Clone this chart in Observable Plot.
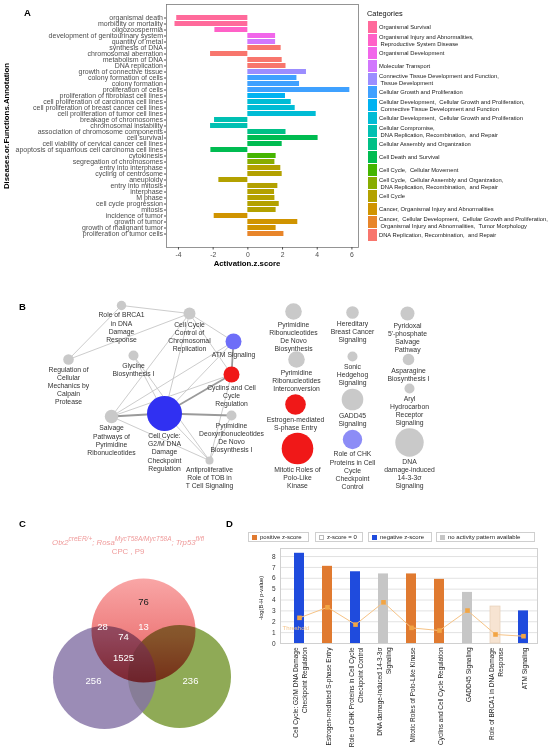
<!DOCTYPE html>
<html><head><meta charset="utf-8">
<script src="https://cdn.jsdelivr.net/npm/d3@7"></script>
<script src="https://cdn.jsdelivr.net/npm/@observablehq/plot@0.6"></script>
<style>
html,body{margin:0;padding:0;background:#fff;}
#root{position:relative;width:559px;height:748px;overflow:hidden;font-family:"Liberation Sans",Arial,sans-serif;}
#root svg{overflow:visible;}
.t{position:absolute;white-space:pre;line-height:1;}
.panel{font-weight:bold;font-size:9.5px;color:#000;}
.legA{position:absolute;left:379px;height:13px;display:flex;align-items:center;font-size:5.8px;line-height:6.7px;color:#1a1a1a;white-space:pre;}
.swA{position:absolute;left:368px;width:8.5px;height:12.4px;}
.legD{position:absolute;top:532px;height:10px;border:1px solid #cfcfcf;box-sizing:border-box;font-size:6px;color:#222;display:flex;align-items:center;white-space:pre;padding-left:3px;}
.legD span{display:inline-block;width:5px;height:5px;margin-right:3px;box-sizing:border-box;}
</style></head><body><div id="root"></div>
<script>
// ---------------- Panel A data ----------------
const functionsA = ["organismal death","morbidity or mortality","oligozoospermia","development of genitourinary system","quantity of metal","synthesis of DNA","chromosomal aberration","metabolism of DNA","DNA replication","growth of connective tissue","colony formation of cells","colony formation","proliferation of cells","proliferation of fibroblast cell lines","cell proliferation of carcinoma cell lines","cell proliferation of breast cancer cell lines","cell proliferation of tumor cell lines","breakage of chromosomes","chromosomal instability","association of chromosome components","cell survival","cell viability of cervical cancer cell lines","apoptosis of squamous cell carcinoma cell lines","cytokinesis","segregation of chromosomes","entry into interphase","cycling of centrosome","aneuploidy","entry into mitosis","interphase","M phase","cell cycle progression","mitosis","incidence of tumor","growth of tumor","growth of malignant tumor","proliferation of tumor cells"];
const zScoresA = [-4.1,-4.2,-1.9,1.6,1.6,1.92,-2.15,1.98,2.2,3.38,2.83,2.98,5.88,2.17,2.5,2.73,3.94,-1.92,-2.15,2.2,4.05,1.98,-2.13,1.63,1.56,1.9,1.98,-1.67,1.73,1.54,1.56,1.81,1.63,-1.94,2.88,1.63,2.08];
const categoriesA = ["Organismal Survival","Organismal Injury and Abnormalities,\n Reproductive System Disease","Organismal Development","Molecular Transport","Connective Tissue Development and Function,\n Tissue Development","Cellular Growth and Proliferation","Cellular Development,  Cellular Growth and Proliferation,\n Connective Tissue Development and Function","Cellular Development,  Cellular Growth and Proliferation","Cellular Compromise,\n DNA Replication, Recombination,  and Repair","Cellular Assembly and Organization","Cell Death and Survival","Cell Cycle,  Cellular Movement","Cell Cycle,  Cellular Assembly and Organization,\n DNA Replication, Recombination,  and Repair","Cell Cycle","Cancer, Organismal Injury and Abnormalities","Cancer,  Cellular Development,  Cellular Growth and Proliferation,\n Organismal Injury and Abnormalities,  Tumor Morphology","DNA Replication, Recombination,  and Repair"];
const functionCategoryA = [0,0,1,2,3,16,16,16,16,4,5,5,5,6,7,7,7,8,8,9,10,10,10,11,12,13,13,13,13,13,13,13,13,14,14,14,15];
const categoryColorsA = ["#FF6A9B","#FF61C7","#F166EA","#D177FD","#9B8DFF","#3FA1FF","#00B2F1","#00BCD5","#00C0B2","#00C086","#00BC51","#45B500","#88AC00","#B3A100","#D09400","#E8852A","#F8766D"];
const ticksA = [-4,-2,0,2,4,6];

// ---------------- Panel B data ----------------
const networkLabels = ["Role of BRCA1\nin DNA\nDamage\nResponse","Cell Cycle\nControl of\nChromosomal\nReplication","ATM Signaling","Cyclins and Cell\nCycle\nRegulation","Regulation of\nCellular\nMechanics by\nCalpain\nProtease","Glycine\nBiosynthesis I","Salvage\nPathways of\nPyrimidine\nRibonucleotides","Cell Cycle:\nG2/M DNA\nDamage\nCheckpoint\nRegulation","Pyrimidine\nDeoxyribonucleotides\nDe Novo\nBiosynthesis I","Antiproliferative\nRole of TOB in\nT Cell Signaling","Pyrimidine\nRibonucleotides\nDe Novo\nBiosynthesis","Pyrimidine\nRibonucleotides\nInterconversion","Estrogen-mediated\nS-phase Entry","Mitotic Roles of\nPolo-Like\nKinase","Hereditary\nBreast Cancer\nSignaling","Sonic\nHedgehog\nSignaling","GADD45\nSignaling","Role of CHK\nProteins in Cell\nCycle\nCheckpoint\nControl","Pyridoxal\n5'-phosphate\nSalvage\nPathway","Asparagine\nBiosynthesis I","Aryl\nHydrocarbon\nReceptor\nSignaling","DNA\ndamage-induced\n14-3-3σ\nSignaling"];
const layoutX = [121,189,233,231,68,133,111,164,231,209,293,296,295,297,352,352,352,352,407,408,409,409];
const layoutY = [305,313,341,374,359,355,416,413,415,460,311,359,404,448,312,356,399,439,313,359,388,442];
const nodeSize = [4.7,6,8,8,5.3,5,6.7,17.5,5,4,8.3,8.3,10.3,15.8,6.3,5,10.8,9.7,7,5.8,5,14.2];
const nodeStatus = ["none","none","down","up","none","none","none","strong down","none","none","none","none","up","up","none","none","none","down light","none","none","none","none"];
const networkEdges = [[0,1,1],[0,4,1],[1,4,1],[1,2,1],[1,7,1],[1,6,1],[1,3,1],[2,3,2],[2,7,1],[2,6,1],[3,7,2],[3,6,1],[5,9,1],[5,7,1],[6,7,2],[7,8,2],[6,9,1],[7,9,1],[8,9,1],[3,9,1]];

// ---------------- Panel C data ----------------
const vennCentersX = [143,104,179];
const vennCentersY = [630,677,676];
const vennRadii = [52,51.5,51.5];
const vennCounts = ["76","28","13","74","1525","256","236"];
const vennCountX = [143,102,143,123,123,93,190];
const vennCountY = [601,626,626,636,657,680,680];

// ---------------- Panel D data ----------------
const pathwaysD = ["Cell Cycle: G2/M DNA Damage\nCheckpoint Regulation","Estrogen-mediated S-phase Entry","Role of CHK Proteins in Cell Cycle\nCheckpoint Control","DNA damage-induced 14-3-3σ\nSignaling","Mitotic Roles of Polo-Like Kinase","Cyclins and Cell Cycle Regulation","GADD45 Signaling","Role of BRCA1 in DNA Damage\nResponse","ATM Signaling"];
const negLogPD = [8.3,7.1,6.6,6.4,6.4,5.9,4.7,3.4,3.0];
const ratioD = [2.36,3.33,1.74,3.79,1.44,1.19,3.03,0.83,0.67];
const zStatusD = ["negative","positive","negative","none","positive","positive","none","zero","negative"];
const statusLabelsD = ["positive z-score","z-score = 0","negative z-score","no activity pattern available"];
const thresholdD = 1.3;

// ---------------- helpers ----------------
const root = document.getElementById("root");
function place(el, left, top){ el.style.position="absolute"; el.style.left=left+"px"; el.style.top=top+"px"; root.appendChild(el); return el; }
function addDiv(cls, html, css){ const d=document.createElement("div"); d.className=cls; d.innerHTML=html; Object.assign(d.style, css||{}); root.appendChild(d); return d; }
const FONT = "Liberation Sans, Arial, sans-serif";

// ---------------- Panel A ----------------
const dataA = functionsA.map((f,i)=>({name:f, z:zScoresA[i], cat:categoriesA[functionCategoryA[i]]}));
const plotA = Plot.plot({
  width: 362, height: 272,
  marginLeft: 166, marginRight: 4, marginTop: 4, marginBottom: 25,
  style: {fontFamily: FONT, background: "transparent"},
  x: {domain: [-4.69, 6.38], label: null},
  y: {domain: functionsA, label: null, paddingInner: 0.13, paddingOuter: 0.06},
  color: {domain: categoriesA, range: categoryColorsA},
  marks: [
    Plot.barX(dataA, {x: "z", y: "name", fill: "cat"}),
    Plot.frame({stroke: "#7a7a7a", strokeWidth: 0.8}),
    Plot.axisY({tickSize: 2, tickPadding: 1.5, fontSize: 7, color: "#4d4d4d", label: null}),
    Plot.axisX({ticks: ticksA, tickFormat: d=>String(d), tickSize: 2.5, tickPadding: 2, fontSize: 6.8, color: "#4d4d4d", label: null})
  ]
});
place(plotA, 0, 0);
addDiv("t panel", "A", {left:"24px", top:"8px"});
addDiv("t", "Activation.z.score", {left:"247px", top:"260px", transform:"translateX(-50%)", fontWeight:"bold", fontSize:"7.8px"});
addDiv("t", "Diseases.or.Functions.Annotation", {left:"7px", top:"126px", transform:"translate(-50%,-50%) rotate(-90deg)", fontWeight:"bold", fontSize:"7.8px"});
addDiv("t", "Categories", {left:"367px", top:"10px", fontSize:"7.4px", color:"#111"});
categoriesA.forEach((c,i)=>{
  addDiv("swA", "", {top:(21+13*i)+"px", background:categoryColorsA[i]});
  addDiv("legA", c, {top:(21+13*i)+"px"});
});

// ---------------- Panel B ----------------
const nodes = networkLabels.map((l,i)=>({label:l, x:layoutX[i], y:layoutY[i], r:nodeSize[i], status:nodeStatus[i]}));
const statusColorB = {"none":"#C9C9C9","down":"#6E6EF8","strong down":"#3030F2","down light":"#8C8CF6","up":"#F01818"};
const edges = networkEdges.map(([s,t,w])=>({x1:layoutX[s], y1:layoutY[s], x2:layoutX[t], y2:layoutY[t], w}));
const plotB = Plot.plot({
  width: 559, height: 205, margin: 0,
  style: {fontFamily: FONT, background: "transparent"},
  x: {domain: [0,559], range: [0,559]},
  y: {domain: [295,500], range: [0,205]},
  r: {type: "identity"},
  axis: null,
  marks: [
    Plot.link(edges.filter(e=>e.w===1), {x1:"x1", y1:"y1", x2:"x2", y2:"y2", stroke:"#c6c6c6", strokeWidth:0.9}),
    Plot.link(edges.filter(e=>e.w===2), {x1:"x1", y1:"y1", x2:"x2", y2:"y2", stroke:"#9a9a9a", strokeWidth:1.8}),
    Plot.dot(nodes, {x:"x", y:"y", r:"r", fill: d=>statusColorB[d.status]}),
    Plot.text(nodes, {x:"x", y: d=>d.y + d.r, text:"label", lineAnchor:"top", dy:1.5, fontSize:6.8, lineHeight:1.19, fill:"#333"})
  ]
});
place(plotB, 0, 295);
addDiv("t panel", "B", {left:"19px", top:"302px"});

// ---------------- Panel C ----------------
const circles = vennCentersX.map((x,i)=>({x, y:vennCentersY[i], r:vennRadii[i]}));
const counts = vennCounts.map((c,i)=>({c, x:vennCountX[i], y:vennCountY[i], dark: i===0}));
const plotC = Plot.plot({
  width: 240, height: 190, margin: 0,
  style: {fontFamily: FONT, background: "transparent"},
  x: {domain: [0,240], range: [0,240]},
  y: {domain: [558,748], range: [0,190]},
  r: {type: "identity"},
  axis: null,
  marks: [
    Plot.dot([circles[2]], {x:"x", y:"y", r:"r", fill:"#8FAA56"}),
    Plot.dot([circles[1]], {x:"x", y:"y", r:"r", fill:"#8573A6", fillOpacity:0.82}),
    Plot.dot([circles[0]], {x:"x", y:"y", r:"r", fill:"url(#redGrad)", mixBlendMode:"multiply"}),
    Plot.text(counts.filter(d=>d.dark), {x:"x", y:"y", text:"c", fontSize:9.5, fill:"#222"}),
    Plot.text(counts.filter(d=>!d.dark), {x:"x", y:"y", text:"c", fontSize:9.5, fill:"#fff"})
  ]
});
d3.select(plotC).insert("defs", ":first-child").html('<linearGradient id="redGrad" x1="0" y1="0" x2="0" y2="1"><stop offset="0" stop-color="#F9A6A6"/><stop offset="0.55" stop-color="#EE7E7E"/><stop offset="1" stop-color="#CF4646"/></linearGradient>');
place(plotC, 0, 558);
addDiv("t panel", "C", {left:"19px", top:"519px"});
addDiv("t", '<i>Otx2<sup>creER/+</sup>; Rosa<sup>MycT58A/MycT58A</sup>; Trp53<sup>fl/fl</sup></i>', {left:"0px", width:"256px", textAlign:"center", top:"536px", fontSize:"7.8px", color:"#EF9A9A"});
addDiv("t", 'CPC , P9', {left:"0px", width:"256px", textAlign:"center", top:"548px", fontSize:"7.8px", color:"#EF9A9A"});

// ---------------- Panel D ----------------
const dataD = pathwaysD.map((p,i)=>({pathway:p, p:negLogPD[i], ratio:ratioD[i], status:zStatusD[i]}));
const plotD = Plot.plot({
  width: 319, height: 208,
  marginLeft: 40, marginRight: 22, marginTop: 8, marginBottom: 105,
  style: {fontFamily: FONT, background: "transparent"},
  x: {domain: pathwaysD, paddingInner: 0.64, paddingOuter: 0.35, align: 0.6, label: null, axis: null},
  y: {domain: [0, 8.74], label: null},
  color: {domain: ["positive","zero","negative","none"], range: ["#E07A30","#F7E4D2","#1F4BDD","#C6C6C6"]},
  marks: [
    Plot.gridY({ticks: d3.range(1,9), stroke:"#e2e2e2", strokeOpacity:1}),
    Plot.frame({stroke:"#d0d0d0"}),
    Plot.barY(dataD, {x:"pathway", y:"p", fill:"status"}),
    Plot.barY(dataD.filter(d=>d.status==="zero"), {x:"pathway", y:"p", fill:"none", stroke:"#E9D2BC", strokeWidth:0.8}),
    Plot.line(dataD, {x:"pathway", y:"ratio", stroke:"#F6C386", strokeWidth:1}),
    Plot.dot(dataD, {x:"pathway", y:"ratio", symbol:"square", fill:"#F2A544", r:2.6}),
    Plot.text([thresholdD], {y: d=>d, frameAnchor:"left", text: ()=>"Threshold", textAnchor:"start", dx:2, dy:-1, fontSize:6, fill:"#F5C58E"}),
    Plot.axisY({ticks: d3.range(0,9), tickSize:0, tickPadding:5, fontSize:6.5, color:"#333", label:null}),
    Plot.text(dataD, {x:"pathway", frameAnchor:"bottom", text:"pathway", rotate:-90, textAnchor:"end", lineAnchor:"middle", dy:4, fontSize:6.5, lineHeight:1.5, fill:"#222", ariaLabel:"xlabels"})
  ]
});
place(plotD, 240, 540);
d3.select(plotD).selectAll('g[aria-label="xlabels"] text').each(function(){
  const ts = this.querySelectorAll("tspan");
  if (ts.length > 1) {
    const L = ts[0].getComputedTextLength();
    this.setAttribute("text-anchor","middle");
    ts.forEach(t=>t.setAttribute("x", -L/2));
  }
});
addDiv("t panel", "D", {left:"226px", top:"519px"});
addDiv("t", "-log(B-H p-value)", {left:"262px", top:"598px", transform:"translate(-50%,-50%) rotate(-90deg)", fontSize:"5.8px", color:"#222"});
const legDColors = ["#E07A30","#FFFFFF","#1F4BDD","#C6C6C6"];
const legDLeft = [248,315,368,436], legDWidth=[61,48,64,99];
statusLabelsD.forEach((s,i)=>{
  addDiv("legD", `<span style="background:${legDColors[i]};${i===1?'border:1px solid #bbb;':''}"></span>${s}`, {left:legDLeft[i]+"px", width:legDWidth[i]+"px"});
});
</script></body></html>
